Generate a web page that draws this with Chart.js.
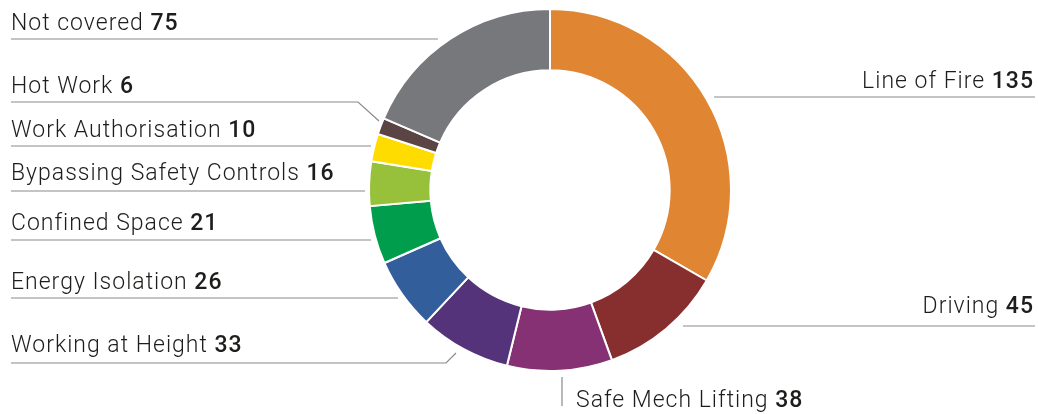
<!DOCTYPE html>
<html>
<head>
<meta charset="utf-8">
<script src="https://cdn.jsdelivr.net/npm/chart.js@4/dist/chart.umd.min.js"></script>
<style>
  html, body { margin: 0; padding: 0; background: #fff; }
  #wrap { width: 1038px; height: 414px; }
</style>
</head>
<body>
<div id="wrap"><canvas id="riskChart"></canvas></div>
<script>
// categories, clockwise from 12 o'clock
const categories = [
    "Line of Fire", "Driving", "Safe Mech Lifting", "Working at Height",
    "Energy Isolation", "Confined Space", "Bypassing Safety Controls",
    "Work Authorisation", "Hot Work", "Not covered"
];
const counts = [135, 45, 38, 33, 26, 21, 16, 10, 6, 75];
const colours = [
    "#E08532", "#872E2E", "#853174", "#55337A", "#335E9C",
    "#009D4C", "#98C13B", "#FFDC00", "#5B4444", "#77787B"
];

// label placement (text anchor + leader line points), same order as categories
const labelLayout = [
    { x: 1034, y: 88, align: "right", line: [[1035, 97], [714, 97]] },
    { x: 1034, y: 313, align: "right", line: [[1035, 326], [683, 326]] },
    { x: 576, y: 407, align: "left", line: [[562, 406], [562, 377]] },
    { x: 11, y: 352, align: "left", line: [[11, 363], [446, 363], [456, 353]] },
    { x: 11, y: 289, align: "left", line: [[11, 298], [398, 298]] },
    { x: 11, y: 230, align: "left", line: [[11, 240], [371, 240]] },
    { x: 11, y: 180, align: "left", line: [[11, 191], [365, 191]] },
    { x: 11, y: 137, align: "left", line: [[11, 146], [371, 146]] },
    { x: 11, y: 93, align: "left", line: [[11, 102], [358, 102], [379, 121]] },
    { x: 11, y: 30, align: "left", line: [[11, 39], [438, 39]] }
];

const FONT_SIZE = 23;

const leaderLabels = {
    id: "leaderLabels",
    afterDraw(chart) {
        const ctx = chart.ctx;
        ctx.save();
        ctx.strokeStyle = "#8a8a8a";
        ctx.lineWidth = 1.2;
        labelLayout.forEach((l, i) => {
            ctx.beginPath();
            l.line.forEach((p, j) => j ? ctx.lineTo(p[0], p[1]) : ctx.moveTo(p[0], p[1]));
            ctx.stroke();

            const name = categories[i] + " ";
            const value = String(counts[i]);
            ctx.letterSpacing = "1px";
            ctx.textBaseline = "alphabetic";
            ctx.textAlign = "left";
            ctx.fillStyle = "#1d1d1b";
            ctx.font = "300 " + FONT_SIZE + "px Roboto";
            const w1 = ctx.measureText(name).width;
            ctx.font = "500 " + FONT_SIZE + "px Roboto";
            const w2 = ctx.measureText(value).width;
            let x = l.align === "right" ? l.x - w1 - w2 : l.x;
            ctx.font = "300 " + FONT_SIZE + "px Roboto";
            ctx.fillText(name, x, l.y);
            ctx.font = "500 " + FONT_SIZE + "px Roboto";
            ctx.fillText(value, x + w1, l.y);
        });
        ctx.restore();
    }
};

new Chart(document.getElementById("riskChart"), {
    type: "doughnut",
    data: {
        labels: categories,
        datasets: [{
            data: counts,
            backgroundColor: colours,
            borderColor: "#ffffff",
            borderWidth: 2
        }]
    },
    options: {
        responsive: true,
        maintainAspectRatio: false,
        animation: false,
        radius: 181,
        cutout: 119,
        layout: { padding: { top: 9, bottom: 43, left: 369, right: 307 } },
        plugins: {
            legend: { display: false },
            tooltip: { enabled: false }
        }
    },
    plugins: [leaderLabels]
});
</script>
</body>
</html>
